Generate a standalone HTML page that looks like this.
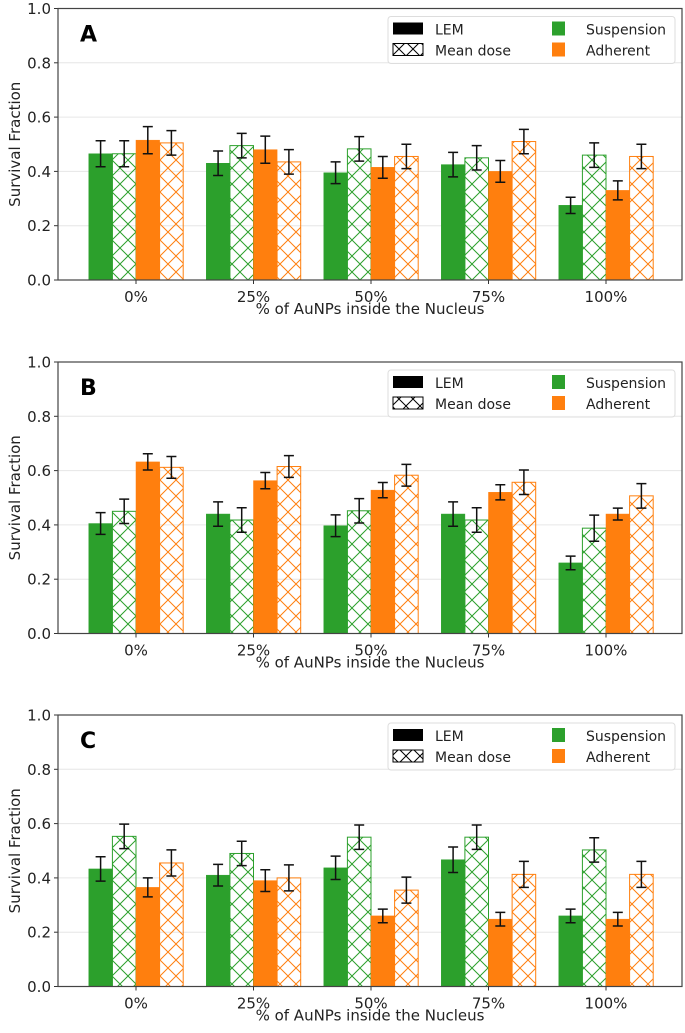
<!DOCTYPE html>
<html><head><meta charset="utf-8">
<style>
html,body{margin:0;padding:0;background:#fff;}
svg{display:block;font-family:"DejaVu Sans","Liberation Sans",sans-serif;}
</style></head>
<body>
<svg id="fig" width="685" height="1033" viewBox="0 0 685 1033" xmlns="http://www.w3.org/2000/svg">
<defs>
<pattern id="hg" patternUnits="userSpaceOnUse" width="16" height="16"><path d="M0,0L16,16M16,0L0,16M-4,12L4,20M12,-4L20,4M-4,4L4,-4M12,20L20,12" stroke="#2ca02c" stroke-width="1"/></pattern>
<pattern id="ho" patternUnits="userSpaceOnUse" width="16" height="16"><path d="M0,0L16,16M16,0L0,16M-4,12L4,20M12,-4L20,4M-4,4L4,-4M12,20L20,12" stroke="#ff7f0e" stroke-width="1"/></pattern>
<pattern id="hk" patternUnits="userSpaceOnUse" width="14" height="14"><path d="M0,0L14,14M14,0L0,14" stroke="#000" stroke-width="1"/></pattern>
</defs>
</svg>
<script>
const categories = ["0%","25%","50%","75%","100%"];
const yTicks = [0,0.2,0.4,0.6,0.8,1.0];
const panelLabels = ["A","B","C"];
// series order: Suspension LEM, Suspension Mean dose, Adherent LEM, Adherent Mean dose
const aValues = [[0.465,0.43,0.395,0.425,0.275],[0.465,0.495,0.483,0.45,0.46],[0.515,0.48,0.415,0.40,0.33],[0.505,0.435,0.455,0.51,0.455]];
const aErrors = [[0.048,0.045,0.04,0.045,0.03],[0.048,0.045,0.045,0.045,0.045],[0.05,0.05,0.04,0.04,0.035],[0.045,0.045,0.045,0.045,0.045]];
const bValues = [[0.405,0.44,0.397,0.44,0.26],[0.45,0.418,0.452,0.418,0.388],[0.632,0.563,0.528,0.52,0.44],[0.612,0.615,0.583,0.557,0.507]];
const bErrors = [[0.04,0.045,0.04,0.045,0.025],[0.045,0.045,0.045,0.045,0.048],[0.03,0.03,0.028,0.028,0.022],[0.04,0.04,0.04,0.045,0.045]];
const cValues = [[0.433,0.41,0.437,0.467,0.26],[0.553,0.49,0.55,0.55,0.503],[0.365,0.39,0.26,0.248,0.248],[0.455,0.40,0.355,0.413,0.413]];
const cErrors = [[0.045,0.04,0.043,0.047,0.025],[0.045,0.045,0.045,0.045,0.045],[0.035,0.04,0.025,0.025,0.025],[0.048,0.048,0.048,0.048,0.048]];
const panelValues=[aValues,bValues,cValues];
const panelErrors=[aErrors,bErrors,cErrors];

const NS="http://www.w3.org/2000/svg";
const svg=document.getElementById('fig');
function mk(tag,attrs,parent){const e=document.createElementNS(NS,tag);for(const k in attrs)e.setAttribute(k,attrs[k]);(parent||svg).appendChild(e);return e;}
const L=58,R=682;
const tops=[8.5,362,715];
const H=271.5;
const colors=["#2ca02c","#2ca02c","#ff7f0e","#ff7f0e"];
const fills=["#2ca02c","url(#hg)","#ff7f0e","url(#ho)"];
const barW=23.6;
function xCenter(i){return 136+i*117.5;}

panelLabels.forEach((lab,p)=>{
  const top=tops[p], bot=top+H;
  const y=v=>bot-v*H;
  const g=mk('g',{});
  
  
  yTicks.forEach(t=>{
    if(t>0&&t<1){const gl=mk('line',{x1:L,x2:R,y1:y(t),y2:y(t),stroke:'#e6e6e6','stroke-width':1},g);
    }
    const tk=mk('line',{x1:L-4,x2:L,y1:y(t),y2:y(t),stroke:'#333','stroke-width':1},g);
    
    const tl=mk('text',{x:L-7,y:y(t)+5.5,'text-anchor':'end','font-size':15,fill:'#222'},g);
    tl.textContent=t.toFixed(1);
    
  });
  for(let s=0;s<4;s++){
    categories.forEach((c,i)=>{
      const v=panelValues[p][s][i], e=panelErrors[p][s][i];
      const x=xCenter(i)+(s-2)*barW;
      const r=mk('rect',{x:x,y:y(v),width:barW,height:v*H,fill:fills[s],stroke:colors[s],'stroke-width':s%2?1:0.5},g);
      
      
      const cx=x+barW/2;
      const eb=mk('path',{d:`M${cx},${y(v-e)}V${y(v+e)}M${cx-5},${y(v-e)}H${cx+5}M${cx-5},${y(v+e)}H${cx+5}`,stroke:'#111','stroke-width':1.5,fill:'none'},g);
      
    });
  }
  const fr=mk('rect',{x:L,y:top,width:R-L,height:H,fill:'none',stroke:'#444','stroke-width':1.2},g);
  
  categories.forEach((c,i)=>{
    const tk=mk('line',{x1:xCenter(i),x2:xCenter(i),y1:bot,y2:bot+4,stroke:'#333'},g);
    
    const t=mk('text',{x:xCenter(i),y:bot+22,'text-anchor':'middle','font-size':15,fill:'#222'},g);
    t.textContent=c;
  });
  const xl=mk('text',{x:370,y:bot+34,'text-anchor':'middle','font-size':15,fill:'#222'},g);
  xl.textContent='% of AuNPs inside the Nucleus';
  
  const yl=mk('text',{x:0,y:0,'text-anchor':'middle','font-size':15,fill:'#222',transform:`translate(20,${top+H/2}) rotate(-90)`},g);
  yl.textContent='Survival Fraction';
  
  const pl=mk('text',{x:80,y:top+33,'font-size':22,'font-weight':'bold',fill:'#000'},g);
  pl.textContent=lab;
  
  const lg=mk('g',{},g);
  
  mk('rect',{x:388,y:top+8,width:287,height:47,rx:3,fill:'#fff','fill-opacity':0.85,stroke:'#ddd'},lg);
  mk('rect',{x:393,y:top+14,width:30,height:12,fill:'#000'},lg);
  mk('rect',{x:393,y:top+35,width:30,height:12,fill:'url(#hk)',stroke:'#000'},lg);
  mk('rect',{x:552,y:top+13,width:13,height:14,fill:'#2ca02c'},lg);
  mk('rect',{x:552,y:top+34,width:13,height:14,fill:'#ff7f0e'},lg);
  [['LEM',435,top+26],['Mean dose',435,top+47],['Suspension',586,top+26],['Adherent',586,top+47]].forEach(a=>{
    const t=mk('text',{x:a[1],y:a[2],'font-size':14,fill:'#222'},lg);t.textContent=a[0];
    
  });
});
</script>
</body></html>
